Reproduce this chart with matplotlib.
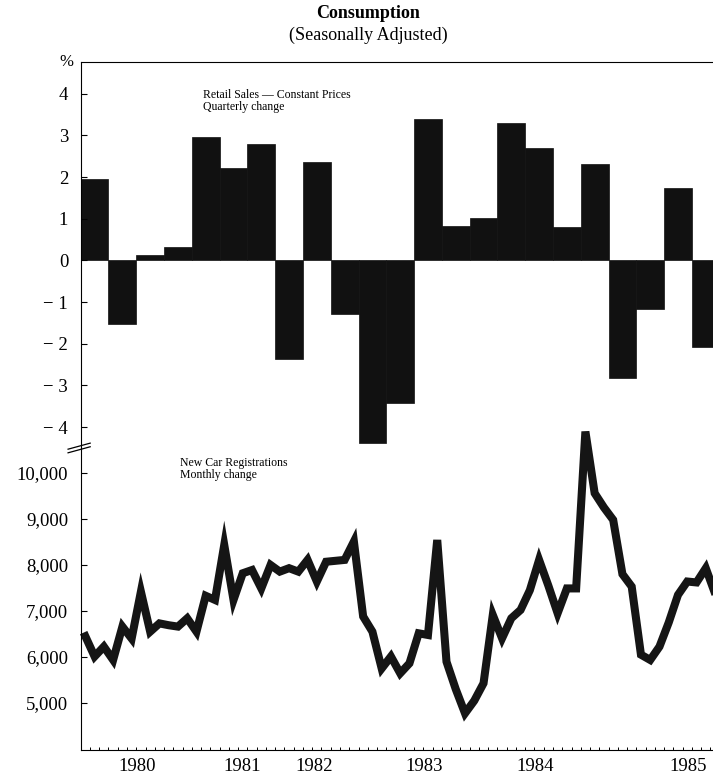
import numpy as np
import matplotlib
matplotlib.use('Agg')
import matplotlib.pyplot as plt

plt.rcParams['font.family'] = ['Liberation Serif', 'DejaVu Serif']

# retail sales, quarterly % change, 1980 Q1 onwards
retail_chg = [1.95, -1.53, 0.12, 0.33, 2.96, 2.21, 2.8, -2.36,
              2.35, -1.28, -4.37, -3.43, 3.39, 0.83, 1.01, 3.29,
              2.69, 0.81, 2.31, -2.81, -1.17, 1.73, -2.08]

# new car registrations, monthly, Jan 1980 onwards
car_regs = [6450, 6010, 6225, 5935, 6660, 6400, 7420, 6550, 6730, 6690, 6660, 6840,
            6550, 7330, 7240, 8435, 7240, 7820, 7890, 7490, 8000, 7855, 7930, 7855,
            8110, 7640, 8070, 8090, 8110, 8510, 6880, 6550, 5750, 6010, 5645, 5862,
            6514, 6478, 8543, 5898, 5300, 4775, 5050, 5428, 6913, 6406, 6841, 7022,
            7450, 8110, 7550, 6950, 7490, 7490, 10900, 9560, 9250, 8980, 7800, 7530,
            6050, 5935, 6225, 6750, 7350, 7640, 7620, 7930, 7380]

pct_ticks = [4, 3, 2, 1, 0, -1, -2, -3, -4]
pct_labels = ['4', '3', '2', '1', '0', '\u2212 1', '\u2212 2', '\u2212 3', '\u2212 4']
reg_ticks = [5000, 6000, 7000, 8000, 9000, 10000]
years = ['1980', '1981', '1982', '1983', '1984', '1985']
year_pos = [1980.51, 1981.45, 1982.10, 1983.09, 1984.09, 1985.47]

q_x = 1980 + np.arange(len(retail_chg)) * 0.25
m_x = 1980 + (np.arange(len(car_regs)) + 0.5) / 12
xlim = (1980.0, 1985.69)

fig = plt.figure(figsize=(7.13, 7.78), dpi=100)
ax1 = fig.add_axes([0.1132, 0.4242, 0.8868, 0.4961])
ax2 = fig.add_axes([0.1132, 0.036, 0.8868, 0.3882])

# top panel: bars
ax1.bar(q_x, retail_chg, width=0.25, align='edge', color='#111111', edgecolor='#111111', lw=0.5)
ax1.set_xlim(*xlim)
ax1.set_ylim(-4.5, 4.76)
ax1.set_yticks(pct_ticks)
ax1.set_yticklabels(pct_labels)
ax1.set_xticks([])
for s in ['right', 'bottom']:
    ax1.spines[s].set_visible(False)
ax1.spines['left'].set_linewidth(0.8)
ax1.spines['top'].set_linewidth(0.8)
ax1.tick_params(axis='y', direction='in', length=4, width=0.8, pad=9, labelsize=13.5)
ax1.text(-0.011, 1.0, '%', transform=ax1.transAxes, ha='right', va='center', fontsize=12)
ax1.text(0.193, 0.93, 'Retail Sales \u2014 Constant Prices\nQuarterly change',
         transform=ax1.transAxes, ha='left', va='top', fontsize=8.5, linespacing=0.95)

# bottom panel: line (the 1984 spike pokes above the panel, as in the original)
ax2.plot(m_x, car_regs, color='#151515', lw=5.8, solid_joinstyle='miter', clip_on=False)
ax2.set_xlim(*xlim)
ax2.set_ylim(3978, 10543)
ax2.set_yticks(reg_ticks)
ax2.set_yticklabels([f'{v:,}' for v in reg_ticks])
for s in ['right', 'top']:
    ax2.spines[s].set_visible(False)
ax2.spines['left'].set_linewidth(0.8)
ax2.spines['bottom'].set_linewidth(0.8)
ax2.tick_params(axis='y', direction='in', length=4, width=0.8, pad=9, labelsize=13.5)
ax2.set_xticks(year_pos)
ax2.set_xticklabels(years)
ax2.set_xticks(1980 + np.arange(0, 69) / 12, minor=True)
ax2.tick_params(axis='x', which='major', length=0, pad=6, labelsize=13.5)
ax2.tick_params(axis='x', which='minor', direction='in', length=2.5, width=0.7)
ax2.text(0.157, 0.97, 'New Car Registrations\nMonthly change',
         transform=ax2.transAxes, ha='left', va='top', fontsize=8.5, linespacing=0.95)

# axis break marks
for dy in (-0.006, 0.006):
    ax2.plot([-0.02, 0.015], [1.0 + dy - 0.01, 1.0 + dy + 0.01], transform=ax2.transAxes,
             color='black', lw=0.9, clip_on=False)

fig.text(0.516, 0.983, 'Consumption', ha='center', va='center', fontsize=13, fontweight='bold')
fig.text(0.516, 0.954, '(Seasonally Adjusted)', ha='center', va='center', fontsize=13)

fig.savefig('out.png', dpi=100)
